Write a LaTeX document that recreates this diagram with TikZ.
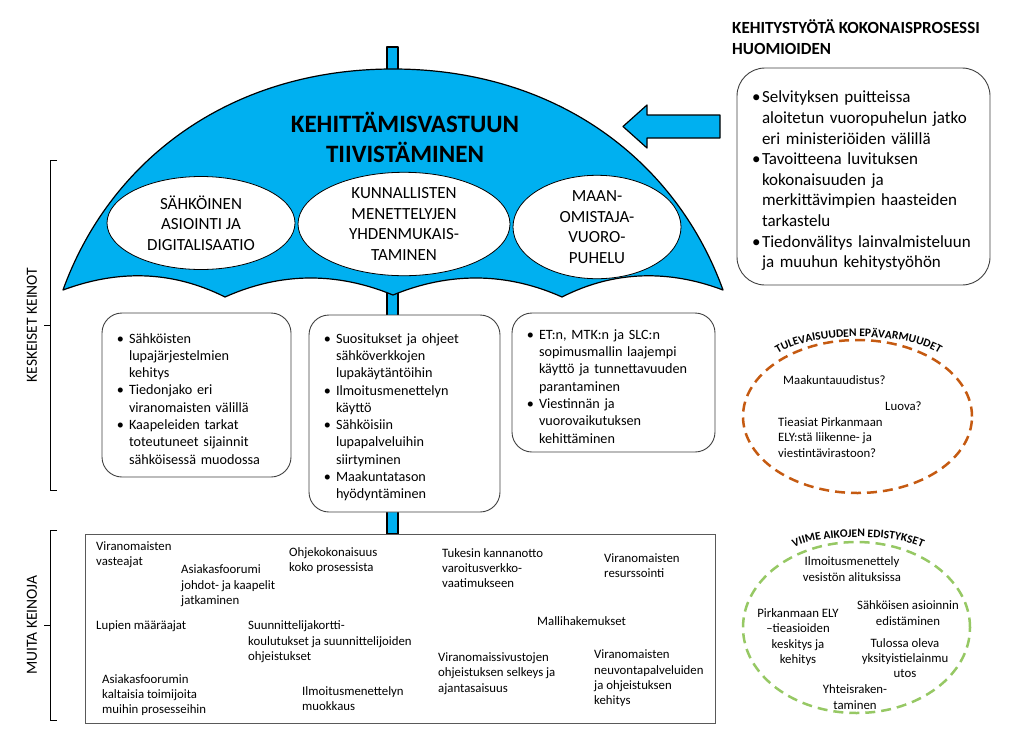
\documentclass[tikz,border=0pt]{standalone}
\usepackage{fontspec}
\setmainfont{Carlito}
\usepackage{enumitem}
\setlist[itemize]{label=\textbullet,leftmargin=13pt,labelsep=5pt,itemsep=0pt,topsep=0pt,parsep=0pt,partopsep=0pt,before=\raggedright}
\usepackage{tikz}
\usetikzlibrary{shapes.geometric,decorations.text}
\definecolor{umbblue}{RGB}{0,176,240}
\definecolor{futorange}{RGB}{197,90,17}
\definecolor{recgreen}{RGB}{150,200,100}

\begin{document}
\begin{tikzpicture}[x=1pt,y=-1pt,
    canopy/.style={
      draw=black,
      line width=1.2pt,
      fill=umbblue,
      line join=round
    }]
\tikzset{bubble/.style = {shape=ellipse,draw=black,line width=0.8pt,fill=white,inner sep=0pt,align=center,font=\fontsize{17}{20.7}\selectfont}}
\tikzset{kbox/.style = {draw=black!75,line width=0.9pt,fill=white,rounded corners=20pt,inner xsep=14pt,inner ysep=0pt,align=left,font=\fontsize{14.2}{17.3}\selectfont}}
\tikzset{note/.style = {inner sep=0pt,align=left,anchor=west,font=\fontsize{12.8}{15.4}\selectfont}}
\tikzset{cnote/.style = {inner sep=0pt,align=center,font=\fontsize{12.8}{15.4}\selectfont}}
\tikzset{ring/.style = {shape=ellipse,line width=2.5pt,dash pattern=on 10pt off 6pt,inner sep=0pt}}
\tikzset{brk/.style = {draw=black,line width=1pt}}
\useasboundingbox (0,0) rectangle (1024,755);
% shaft
\draw[canopy] (387,47) rectangle (398,100);
\draw[canopy] (387,280) rectangle (398,534);
% canopy
\draw[canopy] (63,290) .. controls (110,160) and (230,69) .. (393,69)
  .. controls (556,69) and (676,160) .. (723,290)
  .. controls (670,270) and (615,270) .. (562,297)
  .. controls (506,272) and (449,272) .. (393,295)
  .. controls (337,272) and (281,272) .. (225,297)
  .. controls (171,270) and (117,270) .. (63,290) -- cycle;
\node[font=\bfseries\fontsize{25}{30}\selectfont,align=center,inner sep=0pt] (title) at (405,137) {KEHITTÄMISVASTUUN\\TIIVISTÄMINEN};
\node[bubble,minimum width=188,minimum height=93] (e1) at (201,223) {SÄHKÖINEN\\ASIOINTI JA\\DIGITALISAATIO};
\node[bubble,minimum width=212,minimum height=97] (e2) at (404,224) {KUNNALLISTEN\\MENETTELYJEN\\YHDENMUKAIS-\\TAMINEN};
\node[bubble,minimum width=168,minimum height=84] (e3) at (597,227) {MAAN-\\OMISTAJA-\\VUORO-\\PUHELU};
% arrow
\draw[canopy] (720,115) -- (647,115) -- (647,105) -- (623,126.5) -- (647,148) -- (647,138) -- (720,138) -- cycle;
% top right
\node[anchor=west,align=left,inner sep=0pt,font=\bfseries\fontsize{17}{21}\selectfont] (head) at (732,37.5) {KEHITYSTYÖTÄ KOKONAISPROSESSI\\HUOMIOIDEN};
\node[kbox,rounded corners=28pt,inner xsep=15pt,minimum width=253,minimum height=217,text width=223,font=\fontsize{17}{20.6}\selectfont] (k) at (863.5,176.5) {%
\begin{itemize}[leftmargin=10pt,labelsep=1.5pt]
\item Selvityksen puitteissa\\aloitetun vuoropuhelun jatko\\eri ministeriöiden välillä
\item Tavoitteena luvituksen\\kokonaisuuden ja\\merkittävimpien haasteiden\\tarkastelu
\item Tiedonvälitys lainvalmisteluun\\ja muuhun kehitystyöhön
\end{itemize}};
% key means
\node[kbox,minimum width=189,minimum height=164,text width=161] (b1) at (196.5,395) {%
\begin{itemize}
\item Sähköisten\\lupajärjestelmien\\kehitys
\item Tiedonjako eri\\viranomaisten välillä
\item Kaapeleiden tarkat\\toteutuneet sijainnit\\sähköisessä muodossa
\end{itemize}};
\node[kbox,minimum width=191,minimum height=197,text width=163] (b2) at (404.5,413.5) {%
\begin{itemize}
\item Suositukset ja ohjeet\\sähköverkkojen\\lupakäytäntöihin
\item Ilmoitusmenettelyn\\käyttö
\item Sähköisiin\\lupapalveluihin\\siirtyminen
\item Maakuntatason\\hyödyntäminen
\end{itemize}};
\node[kbox,minimum width=203,minimum height=139,text width=175] (b3) at (613.5,382.5) {%
\begin{itemize}
\item ET:n, MTK:n ja SLC:n\\sopimusmallin laajempi\\käyttö ja tunnettavuuden\\parantaminen
\item Viestinnän ja\\vuorovaikutuksen\\kehittäminen
\end{itemize}};
% left brackets
\draw[brk] (57,160) -- (50,160) -- (50,490) -- (57,490);
\draw[brk] (50,325) -- (44,325);
\draw[brk] (57,530) -- (50,530) -- (50,720) -- (57,720);
\draw[brk] (50,625) -- (44,625);
\node[rotate=90,inner sep=0pt,font=\fontsize{15.5}{18}\selectfont] (l1) at (32,325) {KESKEISET KEINOT};
\node[rotate=90,inner sep=0pt,font=\fontsize{15.5}{18}\selectfont] (l2) at (32,625) {MUITA KEINOJA};
% other means
\node[draw=black!65,line width=1pt,minimum width=630,minimum height=189,fill=white] (mb) at (400,628.5) {};
\node[note] (m1) at (96,554.5) {Viranomaisten\\vasteajat};
\node[note] (m2) at (181,586) {Asiakasfoorumi\\johdot- ja kaapelit\\jatkaminen};
\node[note] (m3) at (289,560.5) {Ohjekokonaisuus\\koko prosessista};
\node[note] (m4) at (442,568) {Tukesin kannanotto\\varoitusverkko-\\vaatimukseen};
\node[note] (m5) at (604,565.5) {Viranomaisten\\resurssointi};
\node[note] (m6) at (96,626) {Lupien määräajat};
\node[note] (m7) at (248,642) {Suunnittelijakortti-\\koulutukset ja suunnittelijoiden\\ohjeistukset};
\node[note] (m8) at (537,621) {Mallihakemukset};
\node[note] (m9) at (438,673.5) {Viranomaissivustojen\\ohjeistuksen selkeys ja\\ajantasaisuus};
\node[note] (m10) at (594,678.5) {Viranomaisten\\neuvontapalveluiden\\ja ohjeistuksen\\kehitys};
\node[note] (m11) at (102,695) {Asiakasfoorumin\\kaltaisia toimijoita\\muihin prosesseihin};
\node[note] (m12) at (302,698.5) {Ilmoitusmenettelyn\\muokkaus};
% uncertainties
\node[ring,draw=futorange,minimum width=229,minimum height=153] (fut) at (857.5,416.5) {};
\path[decorate,decoration={text along path,text align=center,text={|\bfseries\fontsize{11.5}{13}\selectfont|TULEVAISUUDEN EPÄVARMUUDET}}] (770,360) .. controls (797,329) and (920,329) .. (947,360);
\node[note] (f1) at (783,380) {Maakuntauudistus?};
\node[note] (f2) at (885,406) {Luova?};
\node[note] (f3) at (778,437.5) {Tieasiat Pirkanmaan\\ELY:stä liikenne- ja\\viestintävirastoon?};
% progress
\node[ring,draw=recgreen,minimum width=227,minimum height=171] (rec) at (856.5,627.5) {};
\path[decorate,decoration={text along path,text align=center,text={|\bfseries\fontsize{11.5}{13}\selectfont|VIIME AIKOJEN EDISTYKSET}}] (786,552) .. controls (812,532) and (904,532) .. (930,552);
\node[cnote] (r1) at (852,569) {Ilmoitusmenettely\\vesistön alituksissa};
\node[cnote] (r2) at (908,613) {Sähköisen asioinnin\\edistäminen};
\node[cnote] (r3) at (798,637) {Pirkanmaan ELY\\–tieasioiden\\keskitys ja\\kehitys};
\node[cnote] (r4) at (905,658) {Tulossa oleva\\yksityistielainmu\\utos};
\node[cnote] (r5) at (855,697) {Yhteisraken-\\taminen};
\end{tikzpicture}
\end{document}
